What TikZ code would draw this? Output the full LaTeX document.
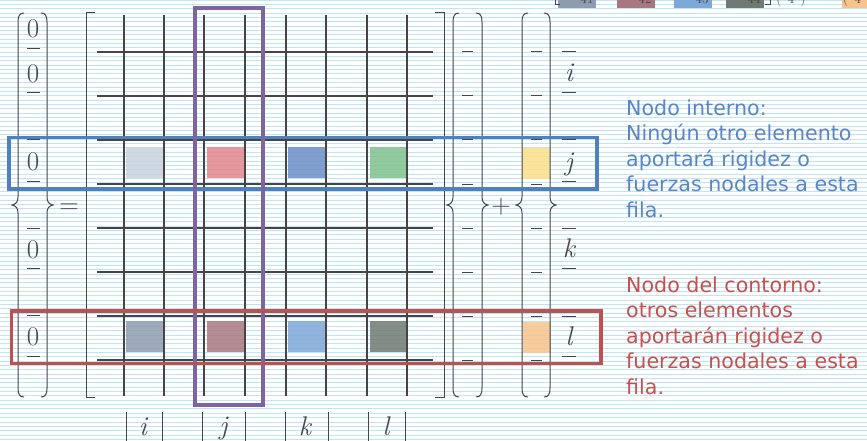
\documentclass[tikz,border=0pt]{standalone}
\usepackage{fontspec}
\newfontfamily\notefont{DejaVu Sans}
\definecolor{paperblue}{HTML}{BFE5F5}
\definecolor{matrixink}{HTML}{454545}
\definecolor{internoblue}{HTML}{4F81BD}
\definecolor{internotext}{HTML}{5A84C4}
\definecolor{contornored}{HTML}{C0504D}
\definecolor{contornotext}{HTML}{C8504C}
\definecolor{columnpurple}{HTML}{8064A2}
\definecolor{celljone}{HTML}{C8D3DD}
\definecolor{celljtwo}{HTML}{E1868C}
\definecolor{celljthree}{HTML}{6B8FC6}
\definecolor{celljfour}{HTML}{80C18C}
\definecolor{celljload}{HTML}{FBDF8A}
\definecolor{celllone}{HTML}{8F9CAF}
\definecolor{cellltwo}{HTML}{A8787E}
\definecolor{celllthree}{HTML}{7EA8D8}
\definecolor{celllfour}{HTML}{707A72}
\definecolor{cellload}{HTML}{F8C48D}
\usetikzlibrary{positioning}
\tikzset{
    paperrule/.style={
        draw=paperblue,
        line width=0.9pt
    },
    gridrule/.style={
        draw=matrixink,
        line width=1.1pt
    },
    delimiter/.style={
        draw=matrixink,
        line width=1pt
    },
    entrybar/.style={
        draw=matrixink,
        line width=1pt
    },
    entry/.style={
        inner sep=0pt,
        anchor=base,
        text=matrixink,
        font=\fontsize{27}{27}\selectfont
    },
    cellpatch/.style={
        minimum width=37pt,
        minimum height=31pt,
        inner sep=0pt,
        fill opacity=0.85
    },
    loadpatch/.style={
        cellpatch,
        minimum width=28pt
    },
    rowframe/.style={
        line width=3.6pt
    },
    noteblock/.style={
        anchor=base west,
        align=left,
        inner sep=0pt,
        font=\notefont\fontsize{20.6}{25.5}\selectfont
    },
    remnant/.style={
        inner sep=0pt,
        anchor=base,
        text=matrixink,
        font=\fontsize{13}{13}\selectfont
    },
    openbrace/.pic={
        \draw[delimiter] (6,0) .. controls (1.5,0) and (0,-3) .. (0,-9) -- (0,-184)
            .. controls (0,-189) and (-2,-191) .. (-6,-192)
            .. controls (-2,-193) and (0,-195) .. (0,-200) -- (0,-375)
            .. controls (0,-381) and (1.5,-384) .. (6,-384);
    },
    closebrace/.pic={
        \draw[delimiter] (-6,0) .. controls (-1.5,0) and (0,-3) .. (0,-9) -- (0,-184)
            .. controls (0,-189) and (2,-191) .. (6,-192)
            .. controls (2,-193) and (0,-195) .. (0,-200) -- (0,-375)
            .. controls (0,-381) and (-1.5,-384) .. (-6,-384);
    }
}

\begin{document}
\begin{tikzpicture}[x=1pt,y=1pt]
        \useasboundingbox (0,0) rectangle (867,-441);
        \clip (0,0) rectangle (867,-441);
        \fill[white] (0,0) rectangle (867,-441);
        \foreach \n in {0,...,101}
            \draw[paperrule] (0,-4.35*\n) -- (867,-4.35*\n);

        % bottom of the equation above
        \fill[celllone] (558,0) rectangle (596,-8);
        \fill[cellltwo] (617,0) rectangle (655,-8);
        \fill[celllthree] (674,0) rectangle (712,-8);
        \fill[celllfour] (726,0) rectangle (764,-8);
        \fill[cellload] (842,0) rectangle (867,-8);
        \draw[delimiter] (555,0) -- (555,-5) -- (560,-5);
        \draw[delimiter] (770,0) -- (770,-5) -- (765,-5);
        \node[remnant] (topa) at (587,-4) {41};
        \node[remnant] (topb) at (645,-4) {42};
        \node[remnant] (topc) at (702,-4) {43};
        \node[remnant] (topd) at (754,-4) {44};
        \node[remnant] (tope) at (791,-4) {(\enspace4\enspace)};
        \node[remnant] (topf) at (852,-4) {(\enspace4};

        \node[cellpatch,fill=celljone] (jone) at (144.5,-162.5) {};
        \node[cellpatch,fill=celljtwo] (jtwo) at (225,-162.5) {};
        \node[cellpatch,fill=celljthree] (jthree) at (306,-162.5) {};
        \node[cellpatch,fill=celljfour] (jfour) at (388.5,-162.5) {};
        \node[loadpatch,fill=celljload] (jload) at (536,-163) {};
        \node[cellpatch,fill=celllone] (lone) at (144.5,-336.5) {};
        \node[cellpatch,fill=cellltwo] (ltwo) at (225,-336.5) {};
        \node[cellpatch,fill=celllthree] (lthree) at (306,-336.5) {};
        \node[cellpatch,fill=celllfour] (lfour) at (388.5,-336.5) {};
        \node[loadpatch,fill=cellload] (lload) at (536.5,-337.5) {};

        \foreach \y in {52,96,140,184,228,272,316,360}
            \draw[gridrule] (97,-\y) -- (433,-\y);
        \foreach \x in {124,164,204,245,286,326,367,407}
            \draw[gridrule] (\x,-15) -- (\x,-396);
        \draw[delimiter] (95,-13) -- (86,-13) -- (86,-397) -- (95,-397);
        \draw[delimiter] (435,-13) -- (444,-13) -- (444,-397) -- (435,-397);

        \pic (lhsopen) at (18,-13) {openbrace};
        \pic (lhsclose) at (47,-13) {closebrace};
        \pic (forceopen) at (453,-13) {openbrace};
        \pic (forceclose) at (482,-13) {closebrace};
        \pic (loadopen) at (522,-13) {openbrace};
        \pic (loadclose) at (550,-13) {closebrace};

        \node[entry] (zerotop) at (33,-38) {0};
        \node[entry] (zeroi) at (33,-83) {0};
        \node[entry] (zeroj) at (33,-170) {0};
        \node[entry] (zerok) at (33,-258) {0};
        \node[entry] (zerol) at (33,-345) {0};
        \foreach \y in {49,93,140,181,228,268,315,356}
            \draw[entrybar] (27,-\y) -- (40,-\y);
        \node[entry] (equals) at (69,-213.5) {=};
        \node[entry] (plus) at (501,-213.5) {+};

        \foreach \y in {52,96,140,184,228,272,316,360} {
            \draw[entrybar] (462,-\y) -- (473,-\y);
            \draw[entrybar] (531,-\y) -- (542,-\y);
        }
        \foreach \y in {52,93,140,181,228,268,316,356}
            \draw[entrybar] (562,-\y) -- (576,-\y);
        \node[entry] (rowi) at (569,-82) {\itshape i};
        \node[entry] (rowj) at (569,-170) {\itshape j};
        \node[entry] (rowk) at (569,-257) {\itshape k};
        \node[entry] (rowl) at (569,-345) {\itshape l};

        \foreach \x in {126,162,202,245,285,328,368,405}
            \draw[entrybar] (\x,-412) -- (\x,-441);
        \node[entry] (coli) at (143,-435) {\itshape i};
        \node[entry] (colj) at (223.5,-434) {\itshape j};
        \node[entry] (colk) at (305,-435) {\itshape k};
        \node[entry] (coll) at (386,-435) {\itshape l};

        \draw[rowframe,draw=internoblue] (9,-137.5) rectangle (597,-189);
        \draw[rowframe,draw=columnpurple] (195,-8) rectangle (263,-405);
        \draw[rowframe,draw=contornored] (11.5,-311) rectangle (601,-363.5);

        \node[noteblock,text=internotext] (interno) at (626,-217)
            {Nodo interno:\\Ningún otro elemento\\aportará rigidez o\\fuerzas nodales a esta\\fila.};
        \node[noteblock,text=contornotext] (contorno) at (626,-394)
            {Nodo del contorno:\\otros elementos\\aportarán rigidez o\\fuerzas nodales a esta\\fila.};
    \end{tikzpicture}
\end{document}
